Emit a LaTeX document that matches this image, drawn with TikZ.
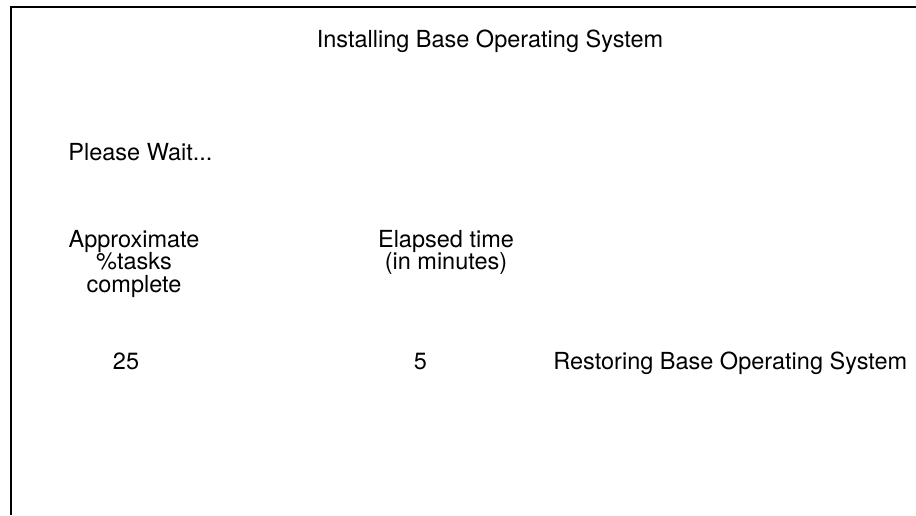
\documentclass[tikz,border=0pt]{standalone}
\usepackage{fontspec}
\setmainfont{TeX Gyre Heros}

\begin{document}
\begin{tikzpicture}[x=0.5pt, y=-0.5pt]


\def\lineWidth{1}
\def\textsize{11.75}
\def\zeilenabstand{11.25}
\tikzset{bildschirmtext/.style={inner sep=0, font=\fontsize{\textsize}{\zeilenabstand}\selectfont}}

\useasboundingbox (0,0) rectangle (916,515);

\coordinate (rahmen-ecke) at (11, 7);
\coordinate (rahmen-rechts) at (916, 7);
\coordinate (rahmen-unten) at (11, 515);


%DRAW

\draw[line width=\lineWidth pt] (rahmen-rechts) -- (rahmen-ecke) -- (rahmen-unten);

\node[bildschirmtext, anchor=base] (titel) at (490, 47) {Installing Base Operating System};
\node[bildschirmtext, anchor=base west] (warten) at (68, 160) {Please Wait...};

% base = letzte Zeile
\node[bildschirmtext, anchor=base, align=center] (prozent-kopf) at (134, 292) {Approximate\\\%tasks\\complete};
\node[bildschirmtext, anchor=base, align=center] (zeit-kopf) at (446, 269.5) {Elapsed time\\(in minutes)};

\node[bildschirmtext, anchor=base] (prozent) at (126, 369) {25};
\node[bildschirmtext, anchor=base] (zeit) at (420.5, 369) {5};
\node[bildschirmtext, anchor=base west] (status) at (553, 369) {Restoring Base Operating System};


\end{tikzpicture}
\end{document}
